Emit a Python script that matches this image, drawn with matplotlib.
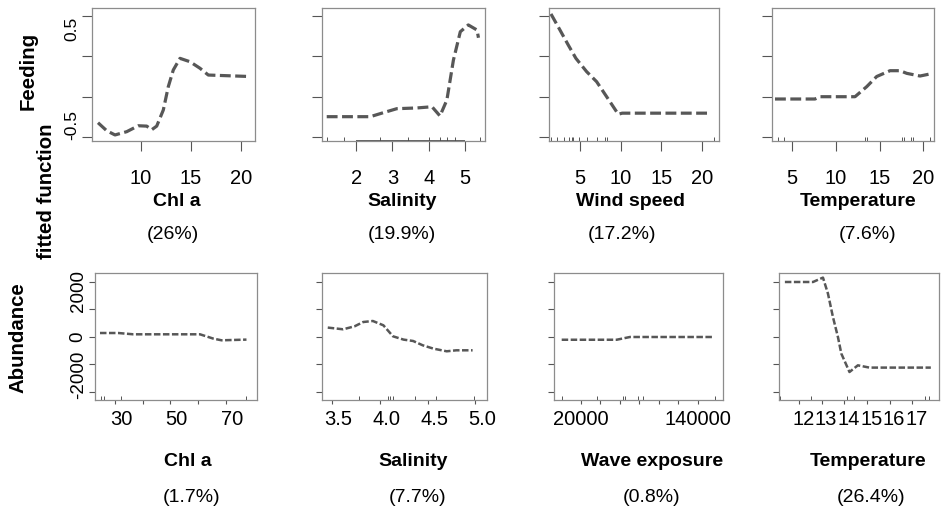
import numpy as np
import matplotlib
matplotlib.use("Agg")
import matplotlib.pyplot as plt
import matplotlib.transforms as mtrans

plt.rcParams['font.family'] = ['Liberation Sans', 'DejaVu Sans']

W, H = 941, 507

# ---- Feeding row (fitted function) ----
chl_f_x = [5.7, 6.57, 7.4, 8.57, 9.73, 10.57, 11.07, 11.57, 12.23, 12.73, 13.23, 13.9, 14.9, 15.9, 16.73, 20.83]
chl_f_y = [-0.382, -0.448, -0.483, -0.456, -0.407, -0.41, -0.44, -0.41, -0.277, -0.084, 0.054, 0.15, 0.122, 0.068, 0.012, 0.0]
chl_f_rug = []

sal_f_x = [1.19, 2.39, 2.75, 3.12, 3.67, 4.09, 4.31, 4.5, 4.68, 4.87, 5.09, 5.33, 5.37]
sal_f_y = [-0.332, -0.332, -0.299, -0.266, -0.26, -0.25, -0.326, -0.194, 0.136, 0.37, 0.426, 0.384, 0.32]
sal_f_rug = [1.19, 1.67, 2.66, 3.44, 4.0, 4.31, 4.5, 4.71, 5.4]

wind_f_x = [1.43, 2.54, 3.56, 4.5, 5.82, 7.05, 8.28, 9.71, 10.2, 21.0]
wind_f_y = [0.517, 0.384, 0.26, 0.15, 0.04, -0.043, -0.167, -0.312, -0.303, -0.303]
wind_f_rug = [1.4, 2.13, 3.07, 3.69, 3.98, 4.18, 4.91, 5.82, 7.05, 8.08, 8.36, 21.5]

temp_f_x = [3.1, 7.65, 8.22, 12.21, 13.54, 14.68, 16.2, 17.33, 18.1, 19.61, 20.75]
temp_f_y = [-0.186, -0.186, -0.167, -0.167, -0.084, 0.0, 0.048, 0.048, 0.026, 0.004, 0.021]
temp_f_rug = [3.47, 4.12, 13.34, 13.6, 17.52, 17.78, 18.58, 18.84, 20.75]

feed_yticks = [-0.5, -1 / 6, 1 / 6, 0.5]
feed_ylabels = ['-0.5', '', '', '0.5']

# ---- Abundance row ----
chl_a_x = [24.6, 31.2, 36.6, 60.7, 65.5, 68.5, 77.5]
chl_a_y = [145, 145, 98, 98, -58, -120, -95]
chl_a_rug = [24.8, 26.0, 32.1, 77.5]

sal_a_x = [3.46, 3.62, 3.74, 3.83, 3.93, 4.04, 4.14, 4.25, 4.35, 4.45, 4.56, 4.70, 4.80, 4.97]
sal_a_y = [342, 280, 389, 545, 582, 425, 25, -95, -145, -302, -422, -520, -484, -484]
sal_a_rug = [3.79, 4.09, 4.11, 4.14, 4.37, 4.59, 4.98]

wave_a_x = [200, 56600, 62000, 70250, 155700]
wave_a_y = [-100, -100, -60, 0, 0]
wave_a_rug = [200, 36100, 63400, 65100, 78800, 83900, 157400]

temp_a_x = [11.37, 12.61, 13.05, 13.27, 13.49, 13.71, 13.86, 14.22, 14.59, 15.10, 17.81]
temp_a_y = [2000, 2000, 2160, 1578, 727, 0, -604, -1273, -1030, -1113, -1113]
temp_a_rug = [11.14, 12.54, 14.1, 14.4, 17.56, 17.73]

abund_yticks = [-2000, -1000, 0, 1000, 2000]
abund_ylabels = ['-2000', '', '0', '', '2000']

xnames_top = ['Chl a', 'Salinity', 'Wind speed', 'Temperature']
pct_top = ['(26%)', '(19.9%)', '(17.2%)', '(7.6%)']
xnames_bot = ['Chl a', 'Salinity', 'Wave exposure', 'Temperature']
pct_bot = ['(1.7%)', '(7.7%)', '(0.8%)', '(26.4%)']

CURVE = '#575757'
BOX = '#8c8c8c'
TICK = '#555555'

fig = plt.figure(figsize=(W / 100, H / 100), dpi=100)


def shift(lbl, dx, dy):
    off = mtrans.ScaledTranslation(dx / 100, -dy / 100, fig.dpi_scale_trans)
    lbl.set_transform(lbl.get_transform() + off)


def panel(box, x, y, rug, xlim, xticks, xlabels, ylim, yticks, ylabels, top):
    l, t, r, b = box
    ax = fig.add_axes([l / W, 1 - b / H, (r - l) / W, (b - t) / H])
    if top:
        ax.plot(x, y, color=CURVE, lw=2.3, linestyle=(0, (3.4, 1.4)))
    else:
        ax.plot(x, y, color=CURVE, lw=1.8, linestyle=(0, (2.6, 1.0)))
    ax.vlines(rug, 0, 0.03 if top else 0.035, transform=ax.get_xaxis_transform(),
              color=TICK, lw=0.7)
    ax.set_xlim(*xlim)
    ax.set_ylim(*ylim)
    ax.set_xticks(xticks)
    ax.set_xticklabels(xlabels)
    ax.set_yticks(yticks)
    ax.set_yticklabels(ylabels, rotation=90, va='center')
    for s in ax.spines.values():
        s.set_color(BOX)
        s.set_linewidth(0.9)
    if top:
        ax.tick_params(axis='x', length=7.5, width=0.8, color=TICK, pad=12.5, labelsize=14.5)
        ax.tick_params(axis='y', length=7.5, width=0.8, color=TICK, pad=1.5, labelsize=12.5)
    else:
        ax.tick_params(axis='x', length=3, width=0.8, color=TICK, pad=4, labelsize=14.5)
        ax.tick_params(axis='y', length=4, width=0.8, color=TICK, pad=2, labelsize=13.5)
    return ax


top_boxes = [(92, 8, 255, 141), (322, 8, 485, 141), (549, 8, 719, 141), (772, 8, 934, 141)]
bot_boxes = [(95, 273, 257, 400), (322, 273, 487, 400), (554, 273, 723, 400), (779, 273, 939, 400)]

feed_ylim = (-0.533, 0.566)
abund_ylim = (-2291, 2327)

top_axes = [
    panel(top_boxes[0], chl_f_x, chl_f_y, chl_f_rug, (5.1, 21.4), [10, 15, 20], ['10', '15', '20'],
          feed_ylim, feed_yticks, feed_ylabels, True),
    panel(top_boxes[1], sal_f_x, sal_f_y, sal_f_rug, (1.06, 5.55), [2, 3, 4, 5], ['2', '3', '4', '5'],
          feed_ylim, feed_yticks, ['', '', '', ''], True),
    panel(top_boxes[2], wind_f_x, wind_f_y, wind_f_rug, (1.19, 22.1), [5, 10, 15, 20], ['5', '10', '15', '20'],
          feed_ylim, feed_yticks, ['', '', '', ''], True),
    panel(top_boxes[3], temp_f_x, temp_f_y, temp_f_rug, (2.76, 21.2), [5, 10, 15, 20], ['5', '10', '15', '20'],
          feed_ylim, feed_yticks, ['', '', '', ''], True),
]
# axis line under the salinity ticks
top_axes[1].hlines(0, 2, 5, transform=top_axes[1].get_xaxis_transform(), color='#444444', lw=1.2,
                   clip_on=False)

bot_axes = [
    panel(bot_boxes[0], chl_a_x, chl_a_y, chl_a_rug, (22.8, 81.3), [30, 40, 50, 60, 70],
          ['30', '', '50', '', '70'], abund_ylim, abund_yticks, abund_ylabels, False),
    panel(bot_boxes[1], sal_a_x, sal_a_y, sal_a_rug, (3.4, 5.12), [3.5, 4.0, 4.5, 5.0],
          ['3.5', '4.0', '4.5', '5.0'], abund_ylim, abund_yticks, [''] * 5, False),
    panel(bot_boxes[2], wave_a_x, wave_a_y, wave_a_rug, (-7692, 165641),
          [20000, 40000, 60000, 80000, 100000, 120000, 140000],
          ['20000', '', '', '', '', '', '140000'], abund_ylim, abund_yticks, [''] * 5, False),
    panel(bot_boxes[3], temp_a_x, temp_a_y, temp_a_rug, (11.11, 18.17), [12, 13, 14, 15, 16, 17],
          ['12', '13', '14', '15', '16', '17'], abund_ylim, abund_yticks, [''] * 5, False),
]

# tick label nudges as in the original figure
fl = top_axes[0].get_yticklabels()
shift(fl[0], 0, -12)
shift(fl[3], 0, 13)
al = bot_axes[0].get_yticklabels()
shift(al[0], 0, -17)
shift(al[4], 0, 9)
for ax, dx in zip(bot_axes, [6, 7, 0, 4]):
    for lbl in ax.get_xticklabels():
        shift(lbl, dx, 0)

# x labels and percentages
top_name_x = [177, 402, 630, 858]
top_pct_x = [173, 402, 622, 868]
bot_name_x = [188, 413, 652, 868]
bot_pct_x = [192, 418, 652, 871]
for i in range(4):
    fig.text(top_name_x[i] / W, 1 - 202 / H, xnames_top[i], ha='center', va='center',
             fontsize=14, fontweight='bold')
    fig.text(top_pct_x[i] / W, 1 - 235 / H, pct_top[i], ha='center', va='center', fontsize=14)
    fig.text(bot_name_x[i] / W, 1 - 462 / H, xnames_bot[i], ha='center', va='center',
             fontsize=14, fontweight='bold')
    fig.text(bot_pct_x[i] / W, 1 - 497 / H, pct_bot[i], ha='center', va='center', fontsize=14)

fig.text(28 / W, 1 - 71 / H, 'Feeding', rotation=90, ha='center', va='center',
         fontsize=14.7, fontweight='bold')
fig.text(47 / W, 1 - 191 / H, 'fitted function', rotation=90, ha='center', va='center',
         fontsize=14.7, fontweight='bold')
fig.text(18 / W, 1 - 338 / H, 'Abundance', rotation=90, ha='center', va='center',
         fontsize=14.7, fontweight='bold')

fig.savefig('out.png', dpi=100)
